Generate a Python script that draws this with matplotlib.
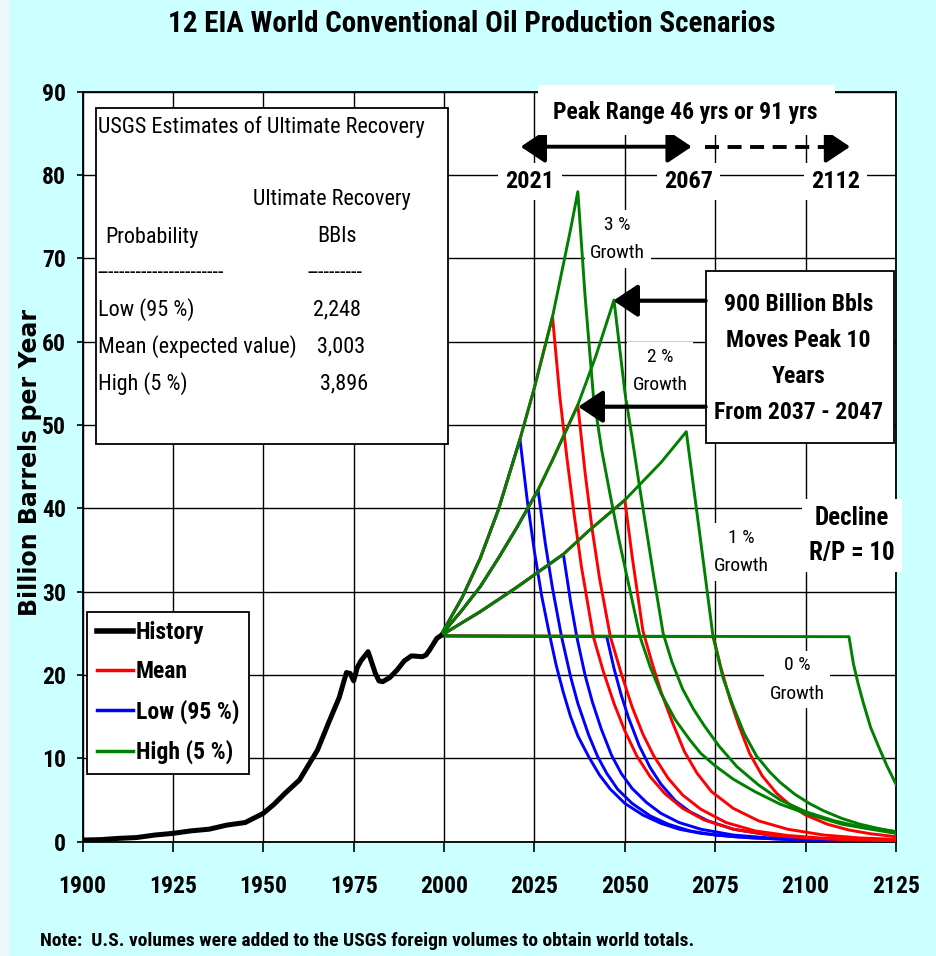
import os
import matplotlib.pyplot as plt
from matplotlib import font_manager as fm
from matplotlib.patches import Rectangle, FancyArrowPatch
from matplotlib.lines import Line2D

W, H = 936, 956

# history (world conventional oil, billion bbl / yr)
hist_years = [1900, 1905, 1910, 1915, 1920, 1925, 1930, 1935, 1940, 1945, 1950, 1953,
              1956, 1960, 1965, 1968, 1971, 1973, 1974, 1975, 1976, 1977, 1979, 1980, 1981,
              1982, 1983, 1985, 1987, 1989, 1991, 1994, 1995, 1996, 1997, 1998, 1999]
hist_vals = [0.2, 0.25, 0.4, 0.5, 0.8, 1.0, 1.3, 1.5, 2.0, 2.3, 3.4, 4.5,
             5.8, 7.4, 11.0, 14.2, 17.3, 20.3, 20.2, 19.3, 20.9, 21.7, 22.8, 21.5, 20.2,
             19.3, 19.2, 19.7, 20.6, 21.7, 22.3, 22.2, 22.4, 23.0, 23.7, 24.4, 24.7]

# growth paths (year, value) for 3, 2, 1 and 0 % growth
rise3 = [(1999, 24.7), (2005, 29.3), (2010, 34.0), (2015, 39.8), (2021, 48.3), (2025, 54.5),
         (2030, 63.0), (2035, 73.5), (2037, 78.0)]
rise2 = [(1999, 24.7), (2005, 27.8), (2010, 30.6), (2015, 34.0), (2020, 37.6), (2026, 42.2),
         (2030, 45.8), (2037, 52.4), (2042, 58.3), (2047, 65.0)]
rise1 = [(1999, 24.7), (2010, 27.6), (2020, 30.5), (2033, 34.5), (2040, 37.3), (2050, 41.0),
         (2060, 45.5), (2067, 49.2)]
rise0 = [(1999, 24.7), (2112, 24.6)]

# declines after peak (R/P = 10)
low3 = [(2021, 48.3), (2023, 41.0), (2025, 34.8), (2027, 29.5), (2029, 25.2), (2031, 21.2),
        (2033, 17.9), (2035, 15.0), (2037, 12.7), (2040, 10.2), (2043, 8.0), (2046, 6.3),
        (2050, 4.6), (2055, 3.2), (2060, 2.2), (2065, 1.5), (2071, 1.0), (2080, 0.6),
        (2095, 0.27), (2110, 0.12), (2125, 0.05)]
low2 = [(2026, 42.2), (2028, 35.8), (2030, 30.4), (2032.5, 24.6), (2035, 19.8), (2037, 16.6),
        (2040, 12.8), (2042.5, 10.2), (2045, 8.2), (2048, 6.3), (2052, 4.6), (2057, 3.1),
        (2062, 2.1), (2068, 1.3), (2075, 0.8), (2085, 0.45), (2100, 0.2), (2125, 0.05)]
low1 = [(2033, 34.5), (2035, 28.8), (2036.7, 24.6), (2039, 20.0), (2041, 16.8), (2043.5, 13.5),
        (2046.3, 10.4), (2049, 8.2), (2052, 6.4), (2056, 4.7), (2060, 3.4), (2065, 2.3),
        (2071, 1.5), (2080, 0.8), (2090, 0.45), (2105, 0.2), (2125, 0.07)]
low0 = [(2045, 24.6), (2047, 20.8), (2049, 17.6), (2051, 14.9), (2054, 11.5), (2057, 8.9),
        (2060, 6.9), (2064, 4.9), (2068, 3.6), (2073, 2.5), (2080, 1.5), (2090, 0.8),
        (2100, 0.45), (2112, 0.22), (2125, 0.1)]

mean3 = [(2030, 63.0), (2032, 53.5), (2034, 46.0), (2036, 39.2), (2038, 33.0), (2041.3, 24.6),
         (2044, 20.5), (2047, 16.6), (2050, 13.3), (2053.3, 10.3), (2057, 7.8), (2061, 5.8),
         (2066, 4.0), (2072, 2.6), (2080, 1.5), (2090, 0.8), (2100, 0.45), (2112, 0.22),
         (2125, 0.1)]
mean2 = [(2037, 52.4), (2039, 44.3), (2041, 37.4), (2043, 31.6), (2046, 24.6), (2049, 20.2),
         (2052, 16.2), (2055, 12.9), (2058, 10.3), (2062, 7.6), (2066, 5.6), (2071, 3.9),
         (2078, 2.3), (2086, 1.3), (2095, 0.75), (2105, 0.42), (2125, 0.15)]
mean1 = [(2050, 41.0), (2052, 34.3), (2053.5, 29.8), (2055, 25.3), (2057.5, 21.5), (2060, 18.0),
         (2063, 14.5), (2066.5, 10.8), (2070, 8.2), (2074, 6.0), (2080, 4.0), (2087, 2.5),
         (2095, 1.5), (2105, 0.8), (2115, 0.45), (2125, 0.28)]
mean0 = [(2074.5, 24.6), (2076.5, 21.0), (2079, 17.2), (2081.5, 14.0), (2084.5, 10.6),
         (2088, 7.9), (2092, 5.8), (2096, 4.3), (2100, 3.2), (2106, 2.1), (2112, 1.4),
         (2118, 0.95), (2125, 0.6)]

high3 = [(2037, 78.0), (2039, 65.5), (2041.3, 53.5), (2043.6, 47.0), (2046, 41.5),
         (2048.5, 36.0), (2051, 31.0), (2054.2, 24.6), (2057, 21.0), (2060, 17.8),
         (2064, 14.6), (2068, 12.2), (2071, 10.6), (2075, 9.1), (2080, 7.5), (2086, 6.0),
         (2093, 4.5), (2100, 3.4), (2110, 2.1), (2118, 1.5), (2125, 1.0)]
high2 = [(2047, 65.0), (2048.5, 59.5), (2050, 54.0), (2052, 48.5), (2054, 42.8), (2056, 37.3),
         (2058, 31.8), (2060.6, 25.0), (2063, 21.6), (2066, 18.3), (2069, 15.9), (2072, 13.9),
         (2076, 11.5), (2081, 9.0), (2087, 6.8), (2093, 5.0), (2100, 3.6), (2108, 2.5),
         (2116, 1.7), (2125, 1.2)]
high1 = [(2067, 49.2), (2069, 42.6), (2071, 36.0), (2072.7, 30.3), (2074.4, 24.6),
         (2077.2, 19.6), (2080, 16.2), (2083, 13.0), (2086.4, 10.3), (2090, 8.4), (2093, 7.1),
         (2097, 5.7), (2101, 4.6), (2105, 3.7), (2110, 2.8), (2115, 2.1), (2120, 1.6),
         (2125, 1.2)]
high0 = [(2112, 24.6), (2113.2, 21.4), (2114.5, 19.0), (2116, 16.6), (2118, 13.7),
         (2120, 11.6), (2122.5, 9.1), (2125, 6.9)]

usgs_rows = ["Low (95 %)", "Mean (expected value)", "High (5 %)"]
usgs_vals = ["2,248", "3,003", "3,896"]

# narrow font like the original (Arial Narrow), whatever is installed
NARROW_FILES = [('LiberationSansNarrow-Regular.ttf', 'LiberationSansNarrow-Bold.ttf', 1.0),
                ('RobotoCondensed-Regular.ttf', 'RobotoCondensed-Bold.ttf', 1.0),
                ('NotoSans-Condensed.ttf', 'NotoSans-CondensedBold.ttf', 0.97),
                ('OpenSans-CondensedRegular.ttf', 'OpenSans-CondensedBold.ttf', 0.95),
                ('DejaVuSansCondensed.ttf', 'DejaVuSansCondensed-Bold.ttf', 0.86)]
files = {os.path.basename(f.fname).lower(): f.fname for f in fm.fontManager.ttflist}
REG, BOLD, SCALE = None, None, 0.84
for r, b, s in NARROW_FILES:
    if r.lower() in files and b.lower() in files:
        REG, BOLD, SCALE = files[r.lower()], files[b.lower()], s
        break


def font(size, bold=False):
    path = BOLD if bold else REG
    if path:
        fp = fm.FontProperties(fname=path)
    else:
        fp = fm.FontProperties(family='Liberation Sans', weight='bold' if bold else 'normal')
    fp.set_size(size * SCALE)
    return fp


def fx(x):
    return x / W


def fy(y):
    return 1 - y / H


def scenario(rise, decline):
    peak_year = decline[0][0]
    pts = [p for p in rise if p[0] < peak_year] + decline
    return [p[0] for p in pts], [p[1] for p in pts]


fig = plt.figure(figsize=(W / 100, H / 100), dpi=100, facecolor='#ccffff')
fig.patches.append(Rectangle((0, 0), fx(9), 1, transform=fig.transFigure,
                             facecolor='#eef8f8', edgecolor='none', zorder=-1))
ax = fig.add_axes([fx(82.5), fy(841.7), fx(896) - fx(82.5), fy(91.7) - fy(841.7)])
ax.set_facecolor('white')

groups = [('#0000ff', [low3, low2, low1, low0]),
          ('#ff0000', [mean3, mean2, mean1, mean0]),
          ('#008000', [high3, high2, high1, high0])]
rises = [rise3, rise2, rise1, rise0]
for color, declines in groups:
    for rise, dec in zip(rises, declines):
        xs, ys = scenario(rise, dec)
        ax.plot(xs, ys, color=color, lw=2.1, solid_joinstyle='round', zorder=3)

ax.plot(hist_years, hist_vals, color='black', lw=3.6, zorder=4)

ax.set_xlim(1900, 2125)
ax.set_ylim(0, 90)
ax.set_xticks(range(1900, 2126, 25))
ax.set_yticks(range(0, 91, 10))
ax.grid(True, color='black', lw=1.0)
ax.set_axisbelow(True)
for s in ax.spines.values():
    s.set_color('black')
    s.set_linewidth(1.3)
ax.tick_params(axis='x', direction='out', length=7, width=1.2, pad=17)
ax.tick_params(axis='y', direction='out', length=4, width=1.2, pad=8)
for lbl in ax.get_xticklabels() + ax.get_yticklabels():
    lbl.set_fontproperties(font(17, bold=True))

# legend
handles = [Line2D([], [], color='black', lw=4),
           Line2D([], [], color='#ff0000', lw=2.5),
           Line2D([], [], color='#0000ff', lw=2.5),
           Line2D([], [], color='#008000', lw=2.5)]
leg = ax.legend(handles, ['History', 'Mean', 'Low (95 %)', 'High (5 %)'],
                loc='upper left', bbox_to_anchor=(fx(87.3), fy(611.7)),
                bbox_transform=fig.transFigure, frameon=True, fancybox=False,
                edgecolor='black', framealpha=1, borderpad=0.4, labelspacing=0.68,
                handlelength=1.55, handletextpad=0.1, borderaxespad=0,
                prop=font(17, bold=True))
leg.get_frame().set_linewidth(1.3)
leg.set_zorder(6)

# title, axis label, note
fig.text(fx(472), fy(24), "12 EIA World Conventional Oil Production Scenarios",
         ha='center', va='center', fontproperties=font(21, bold=True))
fig.text(fx(30), fy(462), "Billion Barrels per Year", rotation=90, ha='center', va='center',
         fontsize=17, fontweight='bold', family='DejaVu Sans')
fig.text(fx(40), fy(941), "Note:  U.S. volumes were added to the USGS foreign volumes to obtain world totals.",
         ha='left', va='center', fontproperties=font(14.0, bold=True))

# USGS estimates box
fig.patches.append(Rectangle((fx(96), fy(444)), fx(447.7) - fx(96), fy(108) - fy(444),
                             transform=fig.transFigure, facecolor='white',
                             edgecolor='black', lw=1.3, zorder=5))
box_kw = dict(va='center', ha='left', zorder=6, fontproperties=font(15.9))
fig.text(fx(98), fy(127), "USGS Estimates of Ultimate Recovery", **box_kw)
fig.text(fx(253), fy(200), "Ultimate Recovery", **box_kw)
fig.text(fx(105), fy(237), "Probability", **box_kw)
fig.text(fx(317), fy(237), "BBls", **box_kw)
fig.text(fx(98), fy(273), "-" * 23, **box_kw)
fig.text(fx(307), fy(273), "-" * 10, **box_kw)
for i, (row, val) in enumerate(zip(usgs_rows, usgs_vals)):
    y = 310 + 37 * i
    fig.text(fx(98), fy(y), row, **box_kw)
    fig.text(fx(313 + 3.5 * i), fy(y), val, **box_kw)

# peak range header
fig.patches.append(Rectangle((fx(538), fy(135)), fx(835) - fx(538), fy(85) - fy(135),
                             transform=fig.transFigure, facecolor='white',
                             edgecolor='none', zorder=5))
fig.text(fx(685.7), fy(113), "Peak Range 46 yrs or 91 yrs", ha='center', va='center',
         fontproperties=font(17, bold=True), zorder=6)
ax.annotate('', xy=(2021.2, 83.4), xytext=(2068.5, 83.4),
            arrowprops=dict(arrowstyle='<|-|>,head_length=0.75,head_width=0.5',
                            lw=2.8, color='black', mutation_scale=20, shrinkA=0, shrinkB=0),
            zorder=6, annotation_clip=False)
ax.plot([2072.2, 2108.5], [83.4, 83.4], color='black', lw=2.8, ls=(0, (3.6, 2.2)),
        zorder=6, clip_on=False)
ax.annotate('', xy=(2112.3, 83.4), xytext=(2108, 83.4),
            arrowprops=dict(arrowstyle='-|>,head_length=0.75,head_width=0.5',
                            lw=2.8, color='black', mutation_scale=20, shrinkA=0, shrinkB=0),
            zorder=6, annotation_clip=False)
for lab, xc in [("2021", 530), ("2067", 688.3), ("2112", 835.7)]:
    fig.text(fx(xc), fy(181.7), lab, ha='center', va='center', zorder=6,
             fontproperties=font(17.5, bold=True),
             bbox=dict(facecolor='white', edgecolor='none', pad=5))

# growth labels
for lab, xc, yc in [("3 %\nGrowth", 617.7, 239), ("2 %\nGrowth", 660, 371),
                    ("1 %\nGrowth", 741.7, 552), ("0 %\nGrowth", 797.3, 679.5)]:
    fig.text(fx(xc), fy(yc), lab, ha='center', va='center', fontproperties=font(14),
             linespacing=1.75, zorder=6,
             bbox=dict(facecolor='white', edgecolor='none', pad=4))
fig.text(fx(852.3), fy(535.7), "Decline\nR/P = 10", ha='center', va='center',
         fontproperties=font(18, bold=True), linespacing=1.6, zorder=6,
         bbox=dict(facecolor='white', edgecolor='none', pad=5))

# 900 billion box
fig.patches.append(Rectangle((fx(705.7), fy(443.3)), fx(894.3) - fx(705.7), fy(270.7) - fy(443.3),
                             transform=fig.transFigure, facecolor='white',
                             edgecolor='black', lw=1.3, zorder=5))
fig.text(fx(798.3), fy(358.3), "900 Billion Bbls\nMoves Peak 10\nYears\nFrom 2037 - 2047",
         ha='center', va='center', fontproperties=font(17, bold=True),
         linespacing=1.72, zorder=6)
for y_tip, x_tip in [(300.7, 613.3), (406.7, 578.3)]:
    fig.patches.append(FancyArrowPatch(
        (fx(705.7), fy(y_tip)), (fx(x_tip), fy(y_tip)), transform=fig.transFigure,
        arrowstyle='-|>,head_length=0.75,head_width=0.5', mutation_scale=20,
        lw=3.0, color='black', shrinkA=0, shrinkB=0, zorder=6))

fig.savefig('out.png', dpi=100, facecolor=fig.get_facecolor())
